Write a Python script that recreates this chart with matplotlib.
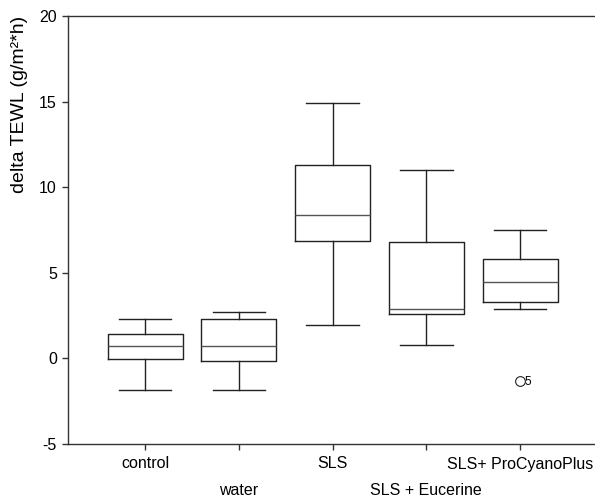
import matplotlib
matplotlib.use("Agg")
import matplotlib.pyplot as plt

categories = ["control", "water", "SLS", "SLS + Eucerine", "SLS+ ProCyanoPlus"]
whisker_low = [-1.86, -1.86, 1.93, 0.78, 2.90]
q1 = [-0.02, -0.17, 6.84, 2.57, 3.28]
median = [0.74, 0.74, 8.38, 2.90, 4.44]
q3 = [1.44, 2.32, 11.28, 6.80, 5.79]
whisker_high = [2.30, 2.71, 14.92, 11.02, 7.48]
outliers = [[], [], [], [], [-1.32]]
outlier_labels = [[], [], [], [], ["5"]]

plt.rcParams["font.family"] = ["Liberation Sans", "DejaVu Sans"]

fig = plt.figure(figsize=(5.95, 4.97), dpi=100)
ax = fig.add_axes([68 / 595, 1 - 444 / 497, 1 - 68 / 595, (444 - 16) / 497])

stats = []
for i, c in enumerate(categories):
    stats.append(dict(label=c, whislo=whisker_low[i], q1=q1[i], med=median[i],
                      q3=q3[i], whishi=whisker_high[i], fliers=outliers[i]))

positions = list(range(1, len(categories) + 1))
lc = "#222222"
ax.bxp(stats, positions=positions, widths=0.8, showfliers=True,
       boxprops=dict(color=lc, linewidth=1.0),
       medianprops=dict(color="#555555", linewidth=1.0),
       whiskerprops=dict(color=lc, linewidth=1.0),
       capprops=dict(color=lc, linewidth=1.0),
       capwidths=0.56,
       flierprops=dict(marker="o", markerfacecolor="white",
                       markeredgecolor=lc, markersize=7, markeredgewidth=0.8))

for i, (vals, labs) in enumerate(zip(outliers, outlier_labels)):
    for v, l in zip(vals, labs):
        ax.annotate(l, (positions[i], v), xytext=(3, -1), textcoords="offset points",
                    va="center", ha="left", fontsize=8.5)

ax.set_xlim(0.178, 5.80)
ax.set_ylim(-5, 20)
ax.set_yticks([-5, 0, 5, 10, 15, 20])
ax.set_yticklabels(["-5", "0", "5", "10", "15", "20"])
ax.set_xticks(positions)
ax.set_xticklabels(categories)
ax.tick_params(axis="both", labelsize=11.5, length=4, width=1, color="#333333")
ax.tick_params(axis="y", pad=4)
for i, t in enumerate(ax.xaxis.get_major_ticks()):
    t.set_pad(5 if i % 2 == 0 else 24)

fig.text(20 / 595, 1 - 104 / 497, "delta TEWL (g/m²*h)", fontsize=14,
         rotation=90, ha="center", va="center")

for s in ["left", "bottom", "top"]:
    ax.spines[s].set_color("#333333")
    ax.spines[s].set_linewidth(1.0)
ax.spines["right"].set_visible(False)

fig.savefig("out.png", dpi=100)
